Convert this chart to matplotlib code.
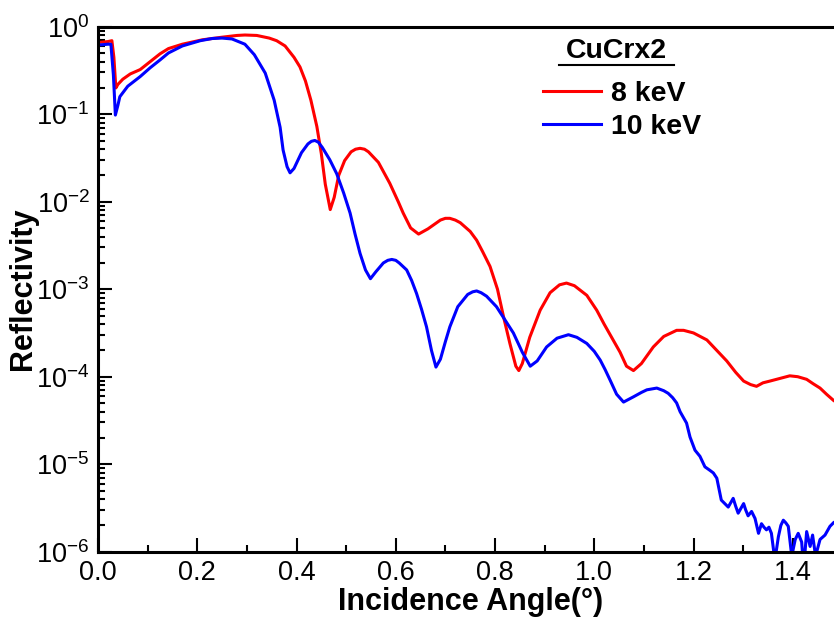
import numpy as np
import matplotlib
matplotlib.use("Agg")
import matplotlib.pyplot as plt
from matplotlib.lines import Line2D
from matplotlib.ticker import LogLocator, MultipleLocator, FixedLocator

plt.rcParams['font.family'] = ['Liberation Sans', 'DejaVu Sans']
plt.rcParams['mathtext.fontset'] = 'custom'
plt.rcParams['mathtext.rm'] = 'Liberation Sans'
plt.rcParams['mathtext.it'] = 'Liberation Sans:italic'
plt.rcParams['mathtext.bf'] = 'Liberation Sans:bold'

# ---- data (angle in degrees, log10 reflectivity) ----
angle_8kev = [0.0, 0.010, 0.020, 0.028, 0.032, 0.036, 0.040, 0.05, 0.065, 0.085, 0.105, 0.125,
              0.142, 0.17, 0.21, 0.25, 0.28, 0.296, 0.32, 0.345, 0.36, 0.377, 0.395, 0.407,
              0.418, 0.429, 0.441, 0.450, 0.458, 0.468, 0.476, 0.485, 0.497, 0.510, 0.519, 0.528,
              0.537, 0.545, 0.565, 0.588, 0.605, 0.615, 0.630, 0.646, 0.665, 0.690, 0.700, 0.709,
              0.720, 0.730,
              0.750, 0.763, 0.775, 0.790, 0.805, 0.817, 0.830, 0.842, 0.848, 0.855, 0.870,
              0.891, 0.911, 0.930, 0.944, 0.960, 0.985, 1.005, 1.020, 1.038, 1.052, 1.065,
              1.079, 1.095, 1.119, 1.140, 1.166, 1.180, 1.200, 1.227, 1.247, 1.267, 1.285,
              1.301, 1.315, 1.327, 1.340, 1.354, 1.374, 1.394, 1.410, 1.428, 1.441, 1.455,
              1.468, 1.482]
logR_8kev = [-0.18, -0.175, -0.17, -0.16, -0.35, -0.70, -0.66, -0.60, -0.54, -0.49, -0.40, -0.31,
             -0.25, -0.20, -0.15, -0.12, -0.10, -0.095, -0.10, -0.13, -0.16, -0.22, -0.35, -0.46,
             -0.62, -0.84, -1.14, -1.45, -1.80, -2.09, -1.95, -1.70, -1.53, -1.43, -1.40, -1.39,
             -1.40, -1.43, -1.55, -1.79, -2.00, -2.13, -2.30, -2.37, -2.31, -2.21, -2.19, -2.19,
             -2.21, -2.24,
             -2.34, -2.44, -2.57, -2.74, -3.00, -3.31, -3.62, -3.88, -3.93, -3.85, -3.55,
             -3.24, -3.04, -2.95, -2.93, -2.96, -3.07, -3.24, -3.40, -3.58, -3.72, -3.88,
             -3.93, -3.85, -3.66, -3.54, -3.47, -3.47, -3.50, -3.58, -3.70, -3.82, -3.95,
             -4.05, -4.09, -4.11, -4.07, -4.05, -4.02, -3.99, -4.00, -4.03, -4.08, -4.13,
             -4.20, -4.27]

angle_10kev = [0.0, 0.010, 0.020, 0.026, 0.031, 0.035, 0.040, 0.044, 0.06, 0.085, 0.105, 0.125,
               0.142, 0.17, 0.206, 0.23, 0.25, 0.27, 0.296, 0.315, 0.337, 0.355, 0.367, 0.373,
               0.381, 0.387, 0.395, 0.41, 0.423, 0.430, 0.437, 0.444, 0.452, 0.467, 0.481, 0.495,
               0.508, 0.518, 0.528, 0.539, 0.549, 0.560, 0.575, 0.584, 0.592, 0.600, 0.607, 0.622,
               0.632, 0.642,
               0.652, 0.662, 0.672, 0.681, 0.690, 0.700, 0.709, 0.725, 0.745, 0.755, 0.763, 0.772,
               0.783,
               0.803, 0.820, 0.837, 0.855, 0.871, 0.885, 0.904, 0.925, 0.948, 0.965, 0.985,
               1.000, 1.012, 1.022, 1.032, 1.045, 1.059, 1.079, 1.095, 1.106, 1.126, 1.140,
               1.149, 1.158, 1.166, 1.173, 1.186, 1.193, 1.203, 1.213, 1.223, 1.233, 1.240,
               1.247, 1.252, 1.256, 1.263, 1.270, 1.275, 1.280, 1.285, 1.290, 1.296, 1.301,
               1.305, 1.310, 1.317, 1.324, 1.331, 1.337, 1.342, 1.347, 1.352, 1.357, 1.364,
               1.371, 1.376, 1.381, 1.386, 1.391, 1.398, 1.405, 1.411, 1.418, 1.422, 1.428,
               1.435, 1.440, 1.446, 1.455, 1.465, 1.475, 1.482]
logR_10kev = [-0.21, -0.205, -0.20, -0.20, -0.55, -1.01, -0.90, -0.80, -0.68, -0.57, -0.47, -0.38,
              -0.30, -0.22, -0.16, -0.135, -0.13, -0.14, -0.20, -0.32, -0.53, -0.84, -1.15, -1.41,
              -1.60, -1.67, -1.62, -1.44, -1.34, -1.31, -1.30, -1.32, -1.38, -1.52, -1.68, -1.90,
              -2.13, -2.37, -2.59, -2.78, -2.88, -2.80, -2.70, -2.67, -2.66, -2.67, -2.70, -2.78,
              -2.90, -3.05,
              -3.23, -3.43, -3.70, -3.89, -3.80, -3.60, -3.43, -3.20, -3.06, -3.03, -3.02, -3.04,
              -3.08,
              -3.20, -3.35, -3.50, -3.72, -3.88, -3.82, -3.66, -3.56, -3.52, -3.55, -3.62,
              -3.71, -3.81, -3.92, -4.04, -4.20, -4.29, -4.23, -4.18, -4.15, -4.13, -4.16,
              -4.19, -4.24, -4.30, -4.40, -4.53, -4.69, -4.84, -4.91, -5.03, -5.07, -5.10,
              -5.16, -5.30, -5.41, -5.45, -5.49, -5.44, -5.39, -5.48, -5.56, -5.50, -5.45,
              -5.52, -5.59, -5.54, -5.62, -5.79, -5.68, -5.72, -5.75, -5.72, -5.79, -6.10,
              -5.83, -5.70, -5.64, -5.67, -5.71, -6.05, -5.86, -5.79, -5.89, -6.20, -5.77,
              -5.94, -5.81, -6.05, -5.86, -5.81, -5.71, -5.67]

y_major_exponents = [-6, -5, -4, -3, -2, -1, 0]
series_labels = ['8 keV', '10 keV']
series_colors = ['#ff0000', '#0000ff']
legend_title = 'CuCrx2'

fig = plt.figure(figsize=(8.34, 6.18), dpi=100)
ax = fig.add_axes([98/834, 66.3/618, 1.5*496.25/834, 525/618])

ax.plot(angle_8kev, 10**np.array(logR_8kev), color=series_colors[0], lw=2.2, label=series_labels[0])
ax.plot(angle_10kev, 10**np.array(logR_10kev), color=series_colors[1], lw=2.2, label=series_labels[1])

ax.set_yscale('log')
ax.set_xlim(0, 1.5)
ax.set_ylim(1e-6, 1)
ax.xaxis.set_major_locator(MultipleLocator(0.2))
ax.xaxis.set_minor_locator(MultipleLocator(0.1))
ax.xaxis.set_major_formatter(matplotlib.ticker.FormatStrFormatter('%.1f'))
ax.yaxis.set_major_locator(FixedLocator(10.0 ** np.array(y_major_exponents)))
minor_vals = [m * 10.0 ** e for e in y_major_exponents[:-1] for m in range(2, 10)]
ax.yaxis.set_minor_locator(FixedLocator(minor_vals))
ax.yaxis.set_minor_formatter(matplotlib.ticker.NullFormatter())

ax.tick_params(which='major', direction='in', length=10, width=1.5, labelsize=19.5, pad=6)
ax.tick_params(which='minor', direction='in', length=5, width=1.5)
ax.tick_params(axis='x', which='major', pad=6)
for s in ax.spines.values():
    s.set_linewidth(2.2)
ax.spines['right'].set_visible(False)

ax.set_xlabel('Incidence Angle(°)', fontsize=22, fontweight='bold', labelpad=1)
ax.set_ylabel('Reflectivity', fontsize=22, fontweight='bold', labelpad=-1)

handles = [Line2D([], [], color=c, lw=2.2) for c in series_colors]
leg = ax.legend(handles, series_labels, loc='upper left', bbox_to_anchor=(543/834, 1 - 81/618),
                bbox_transform=fig.transFigure, frameon=False,
                prop={'size': 20.5, 'weight': 'bold'}, handlelength=2.05, handletextpad=0.35,
                labelspacing=0.25, borderaxespad=0, borderpad=0, handleheight=0.7)
fig.text(616/834, 1 - 51/618, legend_title, fontsize=20.5, fontweight='bold', ha='center', va='center')
fig.add_artist(Line2D([559/834, 674/834], [1 - 65/618, 1 - 65/618], color='black', lw=1.5,
                      transform=fig.transFigure))

fig.savefig('out.png', dpi=100)
